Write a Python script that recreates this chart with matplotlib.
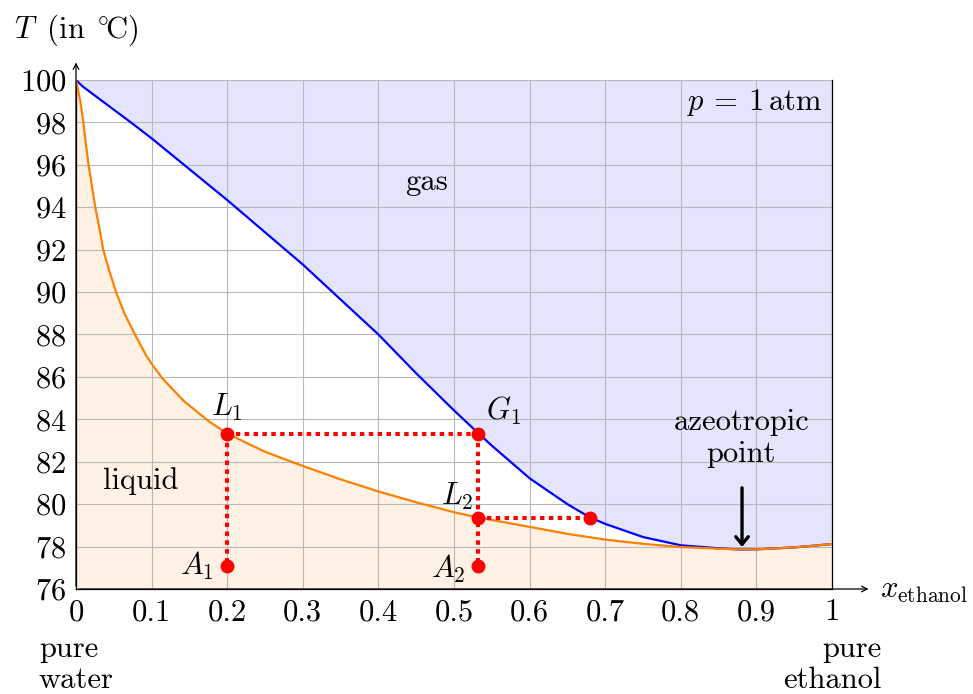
import matplotlib
matplotlib.use('Agg')
import matplotlib.pyplot as plt
import numpy as np

plt.rcParams['font.family'] = 'cmr10'
plt.rcParams['mathtext.fontset'] = 'cm'
plt.rcParams['axes.formatter.use_mathtext'] = True

# bubble curve (liquid)
x_liq = [0, 0.0057, 0.0097, 0.013, 0.0167, 0.021, 0.0255, 0.031, 0.036, 0.044,
         0.053, 0.064, 0.078, 0.093, 0.1, 0.115, 0.143, 0.176, 0.2, 0.25, 0.3,
         0.35, 0.4, 0.45, 0.5, 0.532, 0.6, 0.65, 0.7, 0.75, 0.8, 0.85, 0.88,
         0.9, 0.95, 1.0]
T_liq = [100, 99, 98, 97, 96, 95, 94, 93, 92, 91,
         90, 89, 88, 87, 86.62, 85.9, 84.85, 83.9, 83.33, 82.47, 81.8,
         81.17, 80.6, 80.09, 79.62, 79.37, 78.93, 78.6, 78.33, 78.13, 77.98, 77.9, 77.86,
         77.87, 77.96, 78.12]

# dew curve (gas)
x_gas = [0, 0.009, 0.0726, 0.1, 0.2, 0.3, 0.4, 0.45, 0.5, 0.532, 0.55,
         0.6, 0.65, 0.68, 0.7, 0.75, 0.8, 0.85, 0.88, 0.9, 0.95, 1.0]
T_gas = [100, 99.69, 98, 97.25, 94.34, 91.3, 88.0, 86.17, 84.42, 83.35, 82.76,
         81.22, 80.0, 79.37, 79.07, 78.45, 78.06, 77.92, 77.86, 77.87, 77.96, 78.12]

# construction points
pts_x = [0.2, 0.532, 0.532, 0.68, 0.2, 0.532]
pts_T = [83.33, 83.33, 79.37, 79.37, 77.1, 77.1]
pts_lab = ['$L_1$', '$G_1$', '$L_2$', '', '$A_1$', '$A_2$']
lab_off = [(0, 19), (18, 16), (-15, 15), (0, 0), (-21.5, 0), (-21.5, -2)]

x_ticks = [0, 0.1, 0.2, 0.3, 0.4, 0.5, 0.6, 0.7, 0.8, 0.9, 1.0]
x_ticklabels = ['0', '0.1', '0.2', '0.3', '0.4', '0.5', '0.6', '0.7', '0.8', '0.9', '1']
y_ticks = [76, 78, 80, 82, 84, 86, 88, 90, 92, 94, 96, 98, 100]

fs = 22
fig = plt.figure(figsize=(9.73, 6.94), dpi=100)
ax = fig.add_axes([76/973, 105/694, 756/973, 509/694])

ax.fill_between(x_gas, T_gas, 100, color='#e4e4fc', lw=0, zorder=0)
ax.fill_between(x_liq, 76, T_liq, color='#fff1e4', lw=0, zorder=0)
ax.set_axisbelow(True)
ax.grid(True, color='#b8b8b8', lw=0.8)

ax.plot(x_gas, T_gas, color='blue', lw=1.6, zorder=3)
ax.plot(x_liq, T_liq, color='#ff8000', lw=1.6, zorder=3)

# dotted construction lines
dot = dict(color='red', lw=2.9, dashes=(1.1, 1.1), dash_capstyle='butt', zorder=4)
ax.plot([pts_x[0], pts_x[1]], [pts_T[0], pts_T[1]], **dot)
ax.plot([pts_x[0], pts_x[4]], [pts_T[0], pts_T[4]], **dot)
ax.plot([pts_x[1], pts_x[5]], [pts_T[1], pts_T[5]], **dot)
ax.plot([pts_x[2], pts_x[3]], [pts_T[2], pts_T[3]], **dot)
ax.plot(pts_x, pts_T, 'o', color='red', ms=9, ls='none', zorder=5)

for x, t, lab, off in zip(pts_x, pts_T, pts_lab, lab_off):
    if lab:
        ax.annotate(lab, (x, t), xytext=off, textcoords='offset points',
                    ha='center', va='center', fontsize=fs)

ax.text(0.464, 95.2, 'gas', ha='center', va='center', fontsize=fs)
ax.text(0.085, 81.1, 'liquid', ha='center', va='center', fontsize=fs)
ax.text(0.987, 98.95, r'$p\:=\:1\,\mathrm{atm}$', ha='right', va='center', fontsize=fs)
ax.text(0.88, 83.1, 'azeotropic\npoint', ha='center', va='center', fontsize=fs,
        linespacing=1.2)
ax.annotate('', xy=(0.881, 77.85), xytext=(0.881, 80.9),
            arrowprops=dict(arrowstyle='->,head_length=0.55,head_width=0.45',
                            lw=2.4, color='black'))

ax.set_xlim(0, 1)
ax.set_ylim(76, 100)
ax.set_xticks(x_ticks)
ax.set_xticklabels(x_ticklabels)
ax.set_yticks(y_ticks)
ax.tick_params(length=0, labelsize=fs)
ax.tick_params(axis='x', pad=7)
ax.tick_params(axis='y', pad=7)

ax.spines['top'].set_visible(False)
for s in ['left', 'bottom', 'right']:
    ax.spines[s].set_linewidth(0.9)

# axis arrows
ax.annotate('', xy=(0, 1.04), xytext=(0, 0), xycoords='axes fraction',
            arrowprops=dict(arrowstyle='->', lw=0.9, color='black'), annotation_clip=False)
ax.annotate('', xy=(1.052, 0), xytext=(0, 0), xycoords='axes fraction',
            arrowprops=dict(arrowstyle='->', lw=0.9, color='black'), annotation_clip=False)

ax.text(1.064, -0.005, r'$x_{\mathrm{ethanol}}$', transform=ax.transAxes,
        ha='left', va='center', fontsize=fs)
ax.text(0.0, 1.098, r'$T\;\;(\mathrm{in}\;\,{}^{\circ}\!\mathrm{C})$', transform=ax.transAxes,
        ha='center', va='center', fontsize=fs)
ax.text(-0.049, -0.149, 'pure\nwater', transform=ax.transAxes,
        ha='left', va='center', fontsize=fs, linespacing=1.2)
ax.text(1.066, -0.149, 'pure\nethanol', transform=ax.transAxes,
        ha='right', va='center', fontsize=fs, linespacing=1.2, multialignment='right')

fig.savefig('out.png', dpi=100)
